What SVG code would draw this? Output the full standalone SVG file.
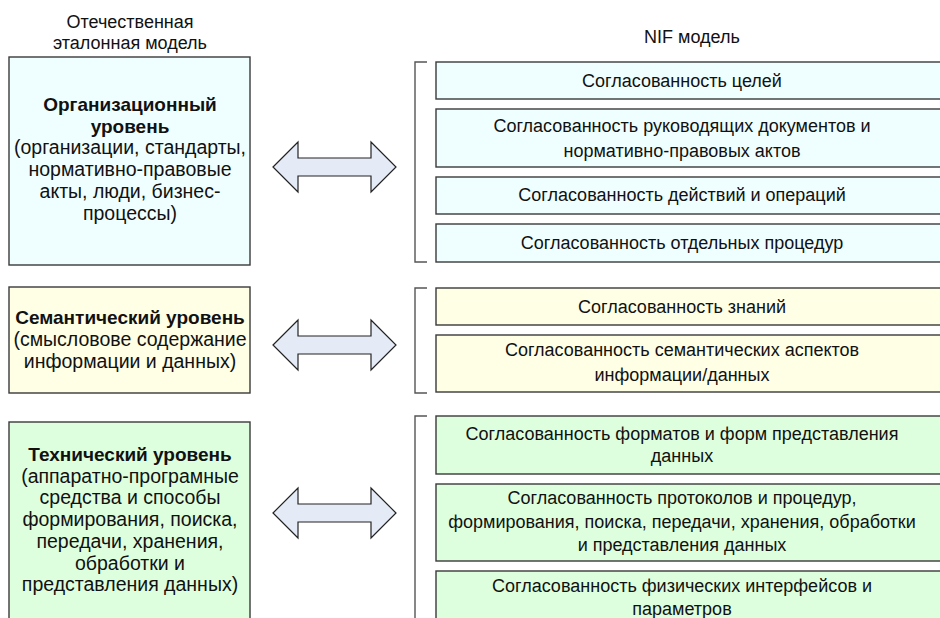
<svg xmlns="http://www.w3.org/2000/svg" width="940" height="618" viewBox="0 0 940 618">
  <style>
    text { font-family: "Liberation Sans", Arial, sans-serif; fill: #111; text-anchor: middle; }
    .hdr { font-size: 18px; }
    .lv { font-size: 19.5px; }
    .lv .b { font-weight: bold; font-size: 19px; }
    .it { font-size: 18px; }
    .box { stroke: #3a3a3a; stroke-width: 1.4; }
    .org { fill: #EFFFFF; }
    .sem { fill: #FFFFE6; }
    .tech { fill: #DEFFDE; }
    .brk { fill: none; stroke: #555; stroke-width: 1.4; }
    .dbl { fill: #E4EBF6; stroke: #222; stroke-width: 1.2; stroke-linejoin: miter; }
  </style>
  <defs>
    <!-- double-headed block arrow, centred on y = 0 -->
    <path id="dblArrow" class="dbl" d="M273,0 L298,-25 L298,-9 L371,-9 L371,-25 L396,0 L371,25 L371,9 L298,9 L298,25 Z"/>
  </defs>

  <rect width="940" height="618" fill="#ffffff"/>

  <!-- column headings -->
  <g id="headings">
    <text class="hdr" x="130" y="28">Отечественная</text>
    <text class="hdr" x="130" y="49">эталонная модель</text>
    <text class="hdr" x="692" y="43">NIF модель</text>
  </g>

  <!-- left column: reference-model levels -->
  <g id="lvl-org" class="lv">
    <rect class="box org" x="9" y="57" width="241" height="208"/>
    <text class="b" x="130" y="111">Организационный</text>
    <text class="b" x="130" y="132.7">уровень</text>
    <text x="130" y="154.4">(организации, стандарты,</text>
    <text x="130" y="176">нормативно-правовые</text>
    <text x="130" y="197.8">акты, люди, бизнес-</text>
    <text x="130" y="219.5">процессы)</text>
  </g>

  <g id="lvl-sem" class="lv">
    <rect class="box sem" x="9" y="287" width="241" height="106"/>
    <text class="b" x="130" y="323.5">Семантический уровень</text>
    <text x="130" y="345.5">(смысловове содержание</text>
    <text x="130" y="367.5">информации и данных)</text>
  </g>

  <g id="lvl-tech" class="lv">
    <rect class="box tech" x="9" y="422" width="241" height="210"/>
    <text class="b" x="130" y="461">Технический уровень</text>
    <text x="130" y="482.7">(аппаратно-програмные</text>
    <text x="130" y="504.4">средства и способы</text>
    <text x="130" y="526">формирования, поиска,</text>
    <text x="130" y="547.8">передачи, хранения,</text>
    <text x="130" y="569.5">обработки и</text>
    <text x="130" y="591">представления данных)</text>
  </g>

  <!-- connectors between the two models -->
  <g id="connectors">
    <use href="#dblArrow" transform="translate(0,167)"/>
    <use href="#dblArrow" transform="translate(0,345)"/>
    <use href="#dblArrow" transform="translate(0,513)"/>
  </g>

  <!-- brackets grouping the NIF items -->
  <g id="brackets">
    <path class="brk" d="M427,62 H415 V262 H427"/>
    <path class="brk" d="M427,288 H415 V393 H427"/>
    <path class="brk" d="M427,416 H415 V630"/>
  </g>

  <!-- right column: NIF model items -->
  <g id="nif-goals" class="it">
    <rect class="box org" x="436" y="62" width="510" height="37"/>
    <text x="682" y="86.5">Согласованность целей</text>
  </g>
  <g id="nif-docs" class="it">
    <rect class="box org" x="436" y="109" width="510" height="58"/>
    <text x="682" y="132">Согласованность руководящих документов и</text>
    <text x="682" y="156.5">нормативно-правовых актов</text>
  </g>
  <g id="nif-actions" class="it">
    <rect class="box org" x="436" y="177" width="510" height="37"/>
    <text x="682" y="201">Согласованность действий и операций</text>
  </g>
  <g id="nif-procs" class="it">
    <rect class="box org" x="436" y="224" width="510" height="38"/>
    <text x="682" y="249">Согласованность отдельных процедур</text>
  </g>

  <g id="nif-knowledge" class="it">
    <rect class="box sem" x="436" y="288" width="510" height="37"/>
    <text x="682" y="313">Согласованность знаний</text>
  </g>
  <g id="nif-semantic" class="it">
    <rect class="box sem" x="436" y="335" width="510" height="57"/>
    <text x="682" y="356">Согласованность семантических аспектов</text>
    <text x="682" y="380.5">информации/данных</text>
  </g>

  <g id="nif-formats" class="it">
    <rect class="box tech" x="436" y="416" width="510" height="58"/>
    <text x="682" y="440">Согласованность форматов и форм представления</text>
    <text x="682" y="462">данных</text>
  </g>
  <g id="nif-protocols" class="it">
    <rect class="box tech" x="436" y="484" width="510" height="77"/>
    <text x="682" y="504">Согласованность протоколов и процедур,</text>
    <text x="682" y="527.5">формирования, поиска, передачи, хранения, обработки</text>
    <text x="682" y="551">и представления данных</text>
  </g>
  <g id="nif-interfaces" class="it">
    <rect class="box tech" x="436" y="571" width="510" height="60"/>
    <text x="682" y="592">Согласованность физических интерфейсов и</text>
    <text x="682" y="615">параметров</text>
  </g>
</svg>
